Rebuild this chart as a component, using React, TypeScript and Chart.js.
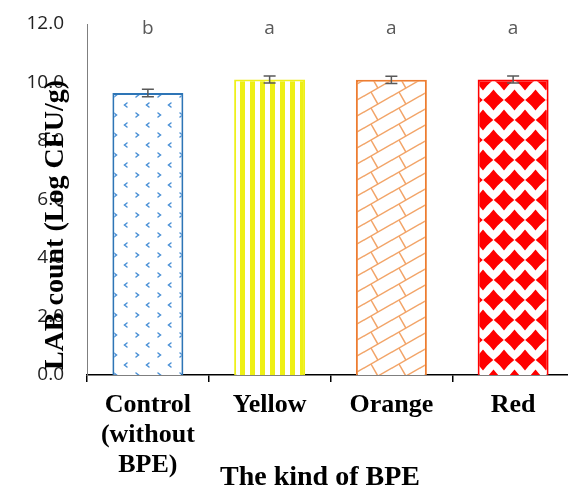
import { useEffect, useRef } from "react";
import { Chart, registerables } from "chart.js";

Chart.register(...registerables);

const categories: (string | string[])[] = [["Control", "(without", "BPE)"], "Yellow", "Orange", "Red"];
const values = [9.64, 10.1, 10.09, 10.1];
const errors = [0.13, 0.12, 0.12, 0.12];
const letters = ["b", "a", "a", "a"];
const yMin = 0;
const yMax = 12;
const yStep = 2;
const xTitle = "The kind of BPE";
const yTitle = "LAB count (Log CFU/g)";
const borderColors = ["#2E75B6", "#EEF01A", "#ED7D31", "#FF0000"];

function makeTile(w: number, h: number, draw: (g: CanvasRenderingContext2D, w: number, h: number) => void) {
  const c = document.createElement("canvas");
  c.width = w;
  c.height = h;
  const g = c.getContext("2d")!;
  g.fillStyle = "#ffffff";
  g.fillRect(0, 0, w, h);
  draw(g, w, h);
  return c;
}

function wrap(g: CanvasRenderingContext2D, w: number, h: number, fn: () => void) {
  for (const dx of [-w, 0, w]) {
    for (const dy of [-h, 0, h]) {
      g.save();
      g.translate(dx, dy);
      fn();
      g.restore();
    }
  }
}

function makePatterns(ctx: CanvasRenderingContext2D) {
  // Control: small chevrons
  const t1 = makeTile(22, 20, (g, w, h) => {
    g.strokeStyle = "#4A90D6";
    g.lineWidth = 1.5;
    g.lineCap = "round";
    wrap(g, w, h, () => {
      g.beginPath();
      g.moveTo(17, 3);
      g.lineTo(14.5, 5);
      g.lineTo(17, 7);
      g.stroke();
      g.beginPath();
      g.moveTo(4, 13);
      g.lineTo(6.5, 15);
      g.lineTo(4, 17);
      g.stroke();
    });
  });
  // Yellow: vertical stripes
  const t2 = makeTile(10, 10, (g) => {
    g.fillStyle = "#EEF014";
    g.fillRect(0, 0, 5, 10);
  });
  // Orange: diagonal brick
  const t3 = makeTile(28, 16, (g, w, h) => {
    g.strokeStyle = "#F2A468";
    g.lineWidth = 1.5;
    wrap(g, w, h, () => {
      g.beginPath();
      g.moveTo(0, h);
      g.lineTo(w, 0);
      g.stroke();
      g.beginPath();
      g.moveTo(7, 12);
      g.lineTo(13.9, 24.1);
      g.stroke();
    });
  });
  // Red: solid diamonds on white, offset rows
  const t4 = makeTile(21, 40, (g, w, h) => {
    g.fillStyle = "#FF0000";
    const dia = (cx: number, cy: number) => {
      const rx = 10.3;
      const ry = 10.5;
      const k = 0.42;
      g.beginPath();
      g.moveTo(cx, cy - ry);
      g.quadraticCurveTo(cx + rx * k, cy - ry * k, cx + rx, cy);
      g.quadraticCurveTo(cx + rx * k, cy + ry * k, cx, cy + ry);
      g.quadraticCurveTo(cx - rx * k, cy + ry * k, cx - rx, cy);
      g.quadraticCurveTo(cx - rx * k, cy - ry * k, cx, cy - ry);
      g.closePath();
      g.fill();
      g.beginPath();
      g.arc(cx, cy, 6.6, 0, Math.PI * 2);
      g.fill();
    };
    wrap(g, w, h, () => {
      dia(0, 0);
      dia(10.5, 20);
    });
  });
  return [t1, t2, t3, t4].map((t) => ctx.createPattern(t, "repeat")!);
}

const annotPlugin = {
  id: "annot",
  afterDatasetsDraw(chart: any) {
    const ctx: CanvasRenderingContext2D = chart.ctx;
    const y = chart.scales.y;
    const meta = chart.getDatasetMeta(0);
    ctx.save();
    ctx.strokeStyle = "#595959";
    ctx.lineWidth = 1.5;
    meta.data.forEach((el: any, i: number) => {
      const x = el.x;
      const top = y.getPixelForValue(values[i] + errors[i]);
      const bot = y.getPixelForValue(values[i] - errors[i]);
      ctx.beginPath();
      ctx.moveTo(x, top);
      ctx.lineTo(x, bot);
      ctx.moveTo(x - 6, top);
      ctx.lineTo(x + 6, top);
      ctx.moveTo(x - 6, bot);
      ctx.lineTo(x + 6, bot);
      ctx.stroke();
    });
    ctx.fillStyle = "#595959";
    ctx.font = '19px "Open Sans"';
    ctx.textAlign = "center";
    ctx.textBaseline = "alphabetic";
    meta.data.forEach((el: any, i: number) => {
      ctx.fillText(letters[i], el.x, y.getPixelForValue(11.66));
    });
    ctx.restore();
  },
  afterDraw(chart: any) {
    const ctx: CanvasRenderingContext2D = chart.ctx;
    ctx.save();
    ctx.fillStyle = "#000";
    ctx.font = 'bold 28px "Liberation Serif"';
    ctx.textAlign = "center";
    ctx.textBaseline = "alphabetic";
    ctx.fillText(xTitle, 320, 485);
    ctx.translate(63, 225);
    ctx.rotate(-Math.PI / 2);
    ctx.fillText(yTitle, 0, 0);
    ctx.restore();
  },
};

export default function App() {
  const ref = useRef<HTMLCanvasElement>(null);
  useEffect(() => {
    const canvas = ref.current!;
    const ctx = canvas.getContext("2d")!;
    const patterns = makePatterns(ctx);
    const chart = new Chart(canvas, {
      type: "bar",
      data: {
        labels: categories,
        datasets: [
          {
            data: values,
            backgroundColor: patterns as any,
            borderColor: borderColors,
            borderWidth: 2,
            categoryPercentage: 1,
            barPercentage: 0.583,
          },
        ],
      },
      options: {
        responsive: false,
        animation: false,
        devicePixelRatio: 1,
        layout: { padding: { left: 0, top: 0, right: 6, bottom: 0 } },
        plugins: { legend: { display: false }, tooltip: { enabled: false }, title: { display: false } },
        scales: {
          x: {
            offset: true,
            grid: {
              display: true,
              offset: true,
              drawOnChartArea: false,
              drawTicks: true,
              tickLength: 7,
              color: "#000",
              lineWidth: 1.5,
            },
            border: { display: true, color: "#000", width: 1.5 },
            ticks: {
              color: "#000",
              padding: 8,
              maxRotation: 0,
              autoSkip: false,
              font: { family: '"Liberation Serif"', size: 26, weight: "bold", lineHeight: 30 / 26 },
            },
            afterFit: (s: any) => {
              s.height = 113;
            },
          },
          y: {
            min: yMin,
            max: yMax,
            grid: { display: false, drawTicks: false },
            border: { display: true, color: "#7F7F7F", width: 1 },
            ticks: {
              stepSize: yStep,
              padding: 23,
              color: "#222",
              font: { family: '"Open Sans"', size: 19 },
              callback: (v: any) => Number(v).toFixed(1),
            },
            afterFit: (s: any) => {
              s.width = 87;
              s.paddingTop = 24;
              s.paddingBottom = 0;
            },
          },
        },
      },
      plugins: [annotPlugin],
    });
    return () => chart.destroy();
  }, []);
  return (
    <div style={{ position: "absolute", left: 0, top: 0, width: 568, height: 488, overflow: "hidden", background: "#fff" }}>
      <canvas ref={ref} width={580} height={488} style={{ width: 580, height: 488, display: "block" }} />
    </div>
  );
}
